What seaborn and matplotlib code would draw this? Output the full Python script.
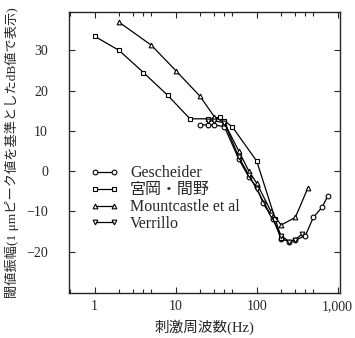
import matplotlib
matplotlib.use("Agg")
import matplotlib.pyplot as plt
import matplotlib.ticker as mticker
from matplotlib.lines import Line2D
import seaborn as sns
import pandas as pd

sns.set_style("ticks")
plt.rcParams['font.family'] = ['Liberation Serif', 'Noto Sans CJK JP', 'DejaVu Sans']
plt.rcParams['axes.unicode_minus'] = False

# Data
gesch_f = [20, 25, 30, 40, 60, 80, 100, 120, 160, 200, 250, 300, 400, 500, 640, 750]
gesch_db = [11.5, 11.5, 11.5, 11.0, 3.0, -1.5, -4.0, -8.0, -12.0, -16.8, -17.5, -17.2, -16.0, -11.5, -9.0, -6.3]

miya_f = [1, 2, 4, 8, 15, 25, 30, 35, 40, 50, 100, 170, 200]
miya_db = [33.5, 30.0, 24.5, 18.8, 13.0, 13.0, 13.0, 13.5, 12.5, 11.0, 2.5, -12.0, -16.5]

mount_f = [2, 5, 10, 20, 30, 40, 60, 80, 100, 150, 200, 300, 430]
mount_db = [37.0, 31.3, 25.0, 18.6, 13.5, 12.0, 5.0, 0.0, -3.0, -10.0, -13.4, -11.5, -4.1]

verr_f = [25, 30, 40, 60, 80, 100, 150, 200, 250, 300, 360]
verr_db = [12.5, 12.5, 12.0, 3.5, -1.0, -4.5, -11.0, -16.0, -17.5, -17.0, -15.7]

names = ["Gescheider", "宮岡・間野", "Mountcastle et al", "Verrillo"]
markers = ["o", "s", "^", "v"]
series = [(gesch_f, gesch_db), (miya_f, miya_db), (mount_f, mount_db), (verr_f, verr_db)]

fig = plt.figure(figsize=(3.55, 3.38), dpi=100)
ax = fig.add_axes([0.194, 0.133, 0.764, 0.831])

for name, mk, (f, d) in zip(names, markers, series):
    df = pd.DataFrame({"f": f, "db": d})
    sns.lineplot(data=df, x="f", y="db", ax=ax, color="black", lw=0.9,
                 marker=mk, markersize=3.4, markerfacecolor="white",
                 markeredgecolor="black", markeredgewidth=0.8, legend=False)

ax.set_xscale("log")
ax.set_xlim(0.48, 1070)
ax.set_ylim(-30.3, 39.5)
ax.set_xticks([1, 10, 100, 1000])
ax.set_xticklabels(["1", "10", "100", "1,000"])
ax.xaxis.set_minor_locator(mticker.LogLocator(base=10, subs=[2, 3, 4, 5]))
ax.xaxis.set_minor_formatter(mticker.NullFormatter())
ax.set_yticks([-20, -10, 0, 10, 20, 30])
ax.set_yticklabels(["−20", "−10", "0", "10", "20", "30"])
ax.tick_params(which="both", direction="in", top=True, right=True, labelsize=10, width=0.8)
ax.tick_params(axis="y", pad=15)
ax.tick_params(axis="x", pad=5)
ax.tick_params(which="major", length=4)
ax.tick_params(which="minor", length=3)
for s in ax.spines.values():
    s.set_linewidth(1.0)
    s.set_visible(True)

ax.set_xlabel("刺激周波数(Hz)", fontsize=10.5, labelpad=5)
ax.set_ylabel("閾値振幅(1 μmピーク値を基準としたdB値で表示)", fontsize=9.5, labelpad=5)

handles = [Line2D([0], [0], color="black", lw=0.9, marker=mk, markersize=3.4,
                  markerfacecolor="white", markeredgecolor="black", markeredgewidth=0.8)
           for mk in markers]
ax.legend(handles, names, loc="upper left", bbox_to_anchor=(0.055, 0.478), frameon=False,
          numpoints=2, fontsize=11.5, handlelength=1.8, labelspacing=0.06,
          handletextpad=0.7, borderaxespad=0)

fig.savefig("out.png", dpi=100)
